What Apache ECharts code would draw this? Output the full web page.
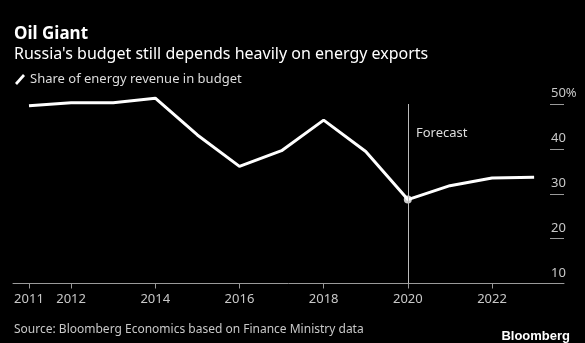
<!DOCTYPE html>
<html>
<head>
<meta charset="utf-8">
<script src="https://cdn.jsdelivr.net/npm/echarts@6/dist/echarts.min.js"></script>
<style>
  html, body { margin: 0; padding: 0; background: #000; }
  #chart { width: 585px; height: 343px; }
</style>
</head>
<body>
<div id="chart"></div>
<script>
// data
const years = [2011, 2012, 2013, 2014, 2015, 2016, 2017, 2018, 2019, 2020, 2021, 2022, 2023];
const share = [49.6, 50.3, 50.3, 51.3, 43.1, 36.1, 39.6, 46.4, 39.4, 28.7, 31.8, 33.5, 33.7];
const xLabelYears = [2011, 2012, 2014, 2016, 2018, 2020, 2022];
const yTicks = [10, 20, 30, 40, 50];
const forecastYear = 2020;

const font = 'Noto Sans';
const grey = '#c8c8c8';

const chart = echarts.init(document.getElementById('chart'), null, { renderer: 'canvas' });

const lineData = years.map((y, i) => [y, share[i]]);
const forecastValue = share[years.indexOf(forecastYear)];

const option = {
  backgroundColor: '#000',
  animation: false,
  title: [
    {
      text: 'Oil Giant',
      subtext: "Russia's budget still depends heavily on energy exports",
      left: 9,
      top: 19,
      itemGap: 0,
      textStyle: { color: '#fff', fontFamily: font, fontWeight: 'bold', fontSize: 17, lineHeight: 20 },
      subtextStyle: { color: '#fff', fontFamily: font, fontSize: 16, lineHeight: 20 }
    },
    {
      text: 'Source: Bloomberg Economics based on Finance Ministry data',
      left: 9,
      top: 317,
      textStyle: { color: grey, fontFamily: font, fontWeight: 'normal', fontSize: 12, lineHeight: 16 }
    },
    {
      text: 'Bloomberg',
      right: 10,
      top: 323,
      textStyle: { color: '#fff', fontFamily: 'Liberation Sans', fontWeight: 'bold', fontSize: 13, lineHeight: 16 }
    }
  ],
  legend: {
    left: 10,
    top: 68,
    itemWidth: 10,
    itemHeight: 12,
    itemGap: 6,
    textStyle: { color: '#ddd', fontFamily: font, fontSize: 13 },
    data: [{
      name: 'Share of energy revenue in budget',
      icon: 'path://M0,10 L8,1 L10,3 L2,12 Z',
      itemStyle: { color: '#fff' }
    }]
  },
  grid: { left: 13, right: 21, top: 104, bottom: 59.5 },
  xAxis: {
    type: 'value',
    min: 2010.62,
    max: 2023.71,
    splitLine: { show: false },
    axisLine: { show: true, lineStyle: { color: '#9a9a9a', width: 1 } },
    axisTick: { show: true, customValues: xLabelYears, length: 5, lineStyle: { color: '#9a9a9a' } },
    axisLabel: {
      customValues: xLabelYears,
      color: grey,
      fontFamily: font,
      fontSize: 13,
      margin: 9,
      formatter: v => String(v)
    }
  },
  yAxis: {
    type: 'value',
    position: 'right',
    min: 10,
    max: 50,
    interval: 10,
    splitLine: { show: false },
    axisLine: { show: false },
    axisTick: { show: true, inside: true, length: 14, lineStyle: { color: '#9a9a9a' } },
    axisLabel: {
      inside: true,
      align: 'left',
      verticalAlign: 'bottom',
      margin: 13,
      padding: [0, 0, 4, 0],
      color: grey,
      fontFamily: font,
      fontSize: 13,
      customValues: yTicks,
      formatter: v => v === 50 ? v + '%' : String(v)
    }
  },
  graphic: [{
    type: 'text',
    left: 416,
    top: 127,
    style: { text: 'Forecast', fill: '#ddd', font: '13px "Noto Sans"' }
  }],
  series: [
    {
      name: 'Share of energy revenue in budget',
      type: 'line',
      data: lineData,
      showSymbol: false,
      clip: false,
      lineStyle: { color: '#fff', width: 3 },
      itemStyle: { color: '#fff' },
      markLine: {
        silent: true,
        symbol: 'none',
        label: { show: false },
        lineStyle: { color: '#bbb', width: 1, type: 'solid' },
        data: [{ xAxis: forecastYear }]
      },
      z: 3
    },
    {
      type: 'scatter',
      data: [[forecastYear, forecastValue]],
      symbolSize: 8,
      itemStyle: { color: '#fff' },
      clip: false,
      z: 4
    }
  ]
};

chart.setOption(option);
</script>
</body>
</html>
